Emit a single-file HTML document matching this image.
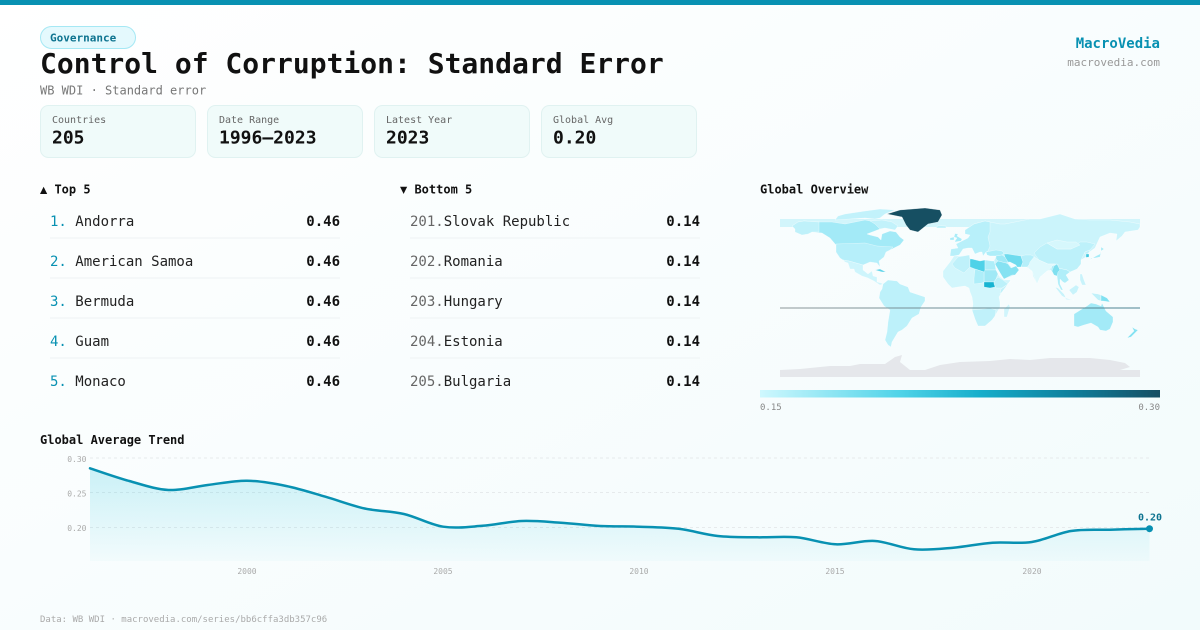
<!DOCTYPE html>
<html>
<head>
<meta charset="utf-8">
<style>
html,body{margin:0;padding:0;width:1200px;height:630px;overflow:hidden;background:#fbfdfd;}
svg{display:block;}
text{font-family:"DejaVu Sans Mono","Liberation Mono",monospace;}
</style>
</head>
<body>
<svg width="1200" height="630" viewBox="0 0 1200 630" xmlns="http://www.w3.org/2000/svg">
<defs>
  <linearGradient id="bg" x1="0" y1="0" x2="1" y2="1">
    <stop offset="0" stop-color="#ffffff"/>
    <stop offset="1" stop-color="#f2fbfc"/>
  </linearGradient>
  <linearGradient id="cbar" x1="0" y1="0" x2="1" y2="0">
    <stop offset="0" stop-color="#cff8fe"/>
    <stop offset="0.35" stop-color="#4fd3e8"/>
    <stop offset="0.55" stop-color="#16aecb"/>
    <stop offset="0.78" stop-color="#0e7f9c"/>
    <stop offset="1" stop-color="#164e63"/>
  </linearGradient>
  <linearGradient id="area" x1="0" y1="0" x2="0" y2="1">
    <stop offset="0" stop-color="#22c3dc" stop-opacity="0.22"/>
    <stop offset="1" stop-color="#22c3dc" stop-opacity="0.03"/>
  </linearGradient>
  <linearGradient id="eq" x1="0" y1="0" x2="1" y2="0">
    <stop offset="0" stop-color="#8d9799"/>
    <stop offset="1" stop-color="#4b8292"/>
  </linearGradient>
  <clipPath id="mapclip"><rect x="780" y="205" width="361" height="172"/></clipPath>
</defs>

<rect x="0" y="0" width="1200" height="630" fill="url(#bg)"/>
<rect x="0" y="0" width="1200" height="5" fill="#0891b2"/>

<!-- Header -->
<rect x="40.5" y="26.5" width="95" height="22" rx="11" fill="#e4f9fd" stroke="#a5e8f4"/>
<text x="50" y="41.5" font-size="11" font-weight="bold" fill="#0e7490">Governance</text>
<text x="40" y="73" font-size="28" font-weight="bold" fill="#111">Control of Corruption: Standard Error</text>
<text x="40" y="94.5" font-size="12" fill="#777">WB WDI · Standard error</text>

<text x="1160" y="48" font-size="14" font-weight="bold" fill="#0891b2" text-anchor="end">MacroVedia</text>
<text x="1160" y="66" font-size="11" fill="#999" text-anchor="end">macrovedia.com</text>

<!-- Stat cards -->
<g>
  <rect x="40.5" y="105.5" width="155" height="52" rx="8" fill="#f0fbfa" stroke="#e0f2f1"/>
  <text x="52" y="123" font-size="10" fill="#666">Countries</text>
  <text x="52" y="143.3" font-size="18" font-weight="bold" fill="#111">205</text>

  <rect x="207.5" y="105.5" width="155" height="52" rx="8" fill="#f0fbfa" stroke="#e0f2f1"/>
  <text x="219" y="123" font-size="10" fill="#666">Date Range</text>
  <text x="219" y="143.3" font-size="18" font-weight="bold" fill="#111">1996–2023</text>

  <rect x="374.5" y="105.5" width="155" height="52" rx="8" fill="#f0fbfa" stroke="#e0f2f1"/>
  <text x="386" y="123" font-size="10" fill="#666">Latest Year</text>
  <text x="386" y="143.3" font-size="18" font-weight="bold" fill="#111">2023</text>

  <rect x="541.5" y="105.5" width="155" height="52" rx="8" fill="#f0fbfa" stroke="#e0f2f1"/>
  <text x="553" y="123" font-size="10" fill="#666">Global Avg</text>
  <text x="553" y="143.3" font-size="18" font-weight="bold" fill="#111">0.20</text>
</g>

<!-- Top 5 -->
<text x="40" y="193.5" font-size="12" font-weight="bold" fill="#111">▲ Top 5</text>
<g font-size="14">
  <text x="50" y="226"><tspan fill="#0891b2">1.</tspan><tspan fill="#222"> Andorra</tspan></text>
  <text x="340" y="226" text-anchor="end" font-weight="bold" fill="#111">0.46</text>
  <rect x="50" y="237.5" width="290" height="1" fill="#eef3f4"/>
  <text x="50" y="266"><tspan fill="#0891b2">2.</tspan><tspan fill="#222"> American Samoa</tspan></text>
  <text x="340" y="266" text-anchor="end" font-weight="bold" fill="#111">0.46</text>
  <rect x="50" y="277.5" width="290" height="1" fill="#eef3f4"/>
  <text x="50" y="306"><tspan fill="#0891b2">3.</tspan><tspan fill="#222"> Bermuda</tspan></text>
  <text x="340" y="306" text-anchor="end" font-weight="bold" fill="#111">0.46</text>
  <rect x="50" y="317.5" width="290" height="1" fill="#eef3f4"/>
  <text x="50" y="346"><tspan fill="#0891b2">4.</tspan><tspan fill="#222"> Guam</tspan></text>
  <text x="340" y="346" text-anchor="end" font-weight="bold" fill="#111">0.46</text>
  <rect x="50" y="357.5" width="290" height="1" fill="#eef3f4"/>
  <text x="50" y="386"><tspan fill="#0891b2">5.</tspan><tspan fill="#222"> Monaco</tspan></text>
  <text x="340" y="386" text-anchor="end" font-weight="bold" fill="#111">0.46</text>
</g>

<!-- Bottom 5 -->
<text x="400" y="193.5" font-size="12" font-weight="bold" fill="#111">▼ Bottom 5</text>
<g font-size="14">
  <text x="410" y="226"><tspan fill="#666">201.</tspan><tspan fill="#222">Slovak Republic</tspan></text>
  <text x="700" y="226" text-anchor="end" font-weight="bold" fill="#111">0.14</text>
  <rect x="410" y="237.5" width="290" height="1" fill="#eef3f4"/>
  <text x="410" y="266"><tspan fill="#666">202.</tspan><tspan fill="#222">Romania</tspan></text>
  <text x="700" y="266" text-anchor="end" font-weight="bold" fill="#111">0.14</text>
  <rect x="410" y="277.5" width="290" height="1" fill="#eef3f4"/>
  <text x="410" y="306"><tspan fill="#666">203.</tspan><tspan fill="#222">Hungary</tspan></text>
  <text x="700" y="306" text-anchor="end" font-weight="bold" fill="#111">0.14</text>
  <rect x="410" y="317.5" width="290" height="1" fill="#eef3f4"/>
  <text x="410" y="346"><tspan fill="#666">204.</tspan><tspan fill="#222">Estonia</tspan></text>
  <text x="700" y="346" text-anchor="end" font-weight="bold" fill="#111">0.14</text>
  <rect x="410" y="357.5" width="290" height="1" fill="#eef3f4"/>
  <text x="410" y="386"><tspan fill="#666">205.</tspan><tspan fill="#222">Bulgaria</tspan></text>
  <text x="700" y="386" text-anchor="end" font-weight="bold" fill="#111">0.14</text>
</g>

<!-- Global Overview map -->
<text x="760" y="193.5" font-size="12" font-weight="bold" fill="#111">Global Overview</text>
<g clip-path="url(#mapclip)">
  <rect x="780" y="219" width="360" height="8" fill="#d2f5fb"/>
  <g transform="translate(960,292) scale(1,-1)" stroke="#ffffff" stroke-width="0.3" fill-rule="nonzero">
    <!-- North America -->
    <polygon fill="#a3eaf7" points="-168,66 -162,70 -156,71 -140,70 -128,70 -115,68 -95,72 -85,70 -80,63 -93,58 -90,57 -82,55 -79,52 -78,58 -70,61 -64,60 -60,55 -56,52 -60,47 -66,44 -70,42 -74,40 -76,35 -81,31 -80,25 -83,29 -90,30 -97,27 -97,22 -92,18 -88,21 -87,16 -83,15 -83,10 -79,9 -77,8 -80,7 -86,11 -92,14 -98,16 -105,20 -106,23 -110,23 -112,29 -115,30 -117,32 -120,34 -124,40 -124,47 -130,54 -138,59 -148,60 -152,58 -158,57 -165,60 -165,63"/>
    <polygon fill="#bff1fa" points="-168,66 -162,70 -156,71 -141,70 -141,60 -148,60 -152,58 -158,57 -165,60 -165,63"/>
    <polygon fill="#b6effa" points="-124,48 -95,49 -83,46 -67,45 -70,42 -74,40 -76,35 -81,31 -80,25 -83,29 -90,30 -97,27 -104,29 -111,31 -117,32 -120,34 -124,40"/>
    <polygon fill="#cef5fc" points="-117,32 -111,31 -104,29 -97,27 -97,22 -92,18 -88,21 -87,16 -83,15 -83,10 -79,9 -77,8 -80,7 -86,11 -92,14 -98,16 -105,20 -106,23 -110,23 -112,29 -115,30"/>
    <polygon fill="#c2f2fb" points="-125,72 -110,73 -95,74 -85,73 -80,74 -75,78 -65,82 -80,83 -95,81 -115,78 -122,76"/>
    <polygon fill="#c2f2fb" points="-80,63 -75,64 -65,62 -62,66 -68,70 -78,72 -90,71 -85,68"/>
    <polygon fill="#5fd3e8" points="-85,22 -80,23 -74,20 -78,20"/>
    <!-- Greenland / Iceland -->
    <polygon fill="#164f62" points="-73,78 -60,82 -35,84 -20,82 -18,77 -22,70 -32,68 -42,60 -50,62 -54,67 -58,75"/>
    <polygon fill="#bff1fa" points="-24,64 -14,64 -14,66 -22,66.5"/>
    <!-- South America -->
    <polygon fill="#bdf1fa" points="-77,8 -72,12 -63,11 -60,8 -52,5 -50,0 -44,-2 -35,-5 -35,-9 -39,-15 -41,-22 -48,-26 -53,-34 -58,-38 -62,-40 -65,-45 -68,-50 -69,-55 -72,-53 -75,-48 -73,-40 -72,-30 -70,-18 -76,-14 -81,-6 -80,0 -78,3"/>
    <!-- Eurasia -->
    <polygon fill="#cbf4fb" points="-10,36 -9,43 -2,44 -4,48 2,51 8,54 10,57 5,58 5,62 14,68 25,71 40,68 45,68 55,70 70,73 80,73 100,78 115,73 130,72 150,72 170,70 180,68 180,65 178,62 165,60 162,56 156,51 157,58 150,59 140,55 135,44 128,39 126,35 121,32 121,28 117,23 110,20 106,17 109,12 105,9 103,10 100,13 100,8 103,2 101,2 98,8 97,16 94,17 91,22 87,21 80,15 77,8 73,16 72,21 67,25 57,25 56,27 50,30 48,29 52,24 56,26 59,22 55,17 44,13 42,16 35,28 34,31 36,36 30,36 27,37 26,40 23,36 22,40 20,40 15,38 12,44 8,44 3,43 -1,37 -6,36"/>
    <polygon fill="#b8f0fa" points="-10,36 -9,43 -2,44 -4,48 2,51 8,54 10,57 5,58 5,62 14,68 25,71 30,70 30,60 28,55 30,46 28,41 26,40 23,36 22,40 20,40 15,38 12,44 8,44 3,43 -1,37 -6,36"/>
    <polygon fill="#a8ecf8" points="-5,50 1,51 2,53 -3,56 -2,58 -5,58.5 -6,55 -3,54 -5,51"/>
    <polygon fill="#a8ecf8" points="-10,52 -6,52 -6,55 -10,54"/>
    <polygon fill="#bdf1fa" points="74,39 80,45 87,49 97,43 111,43 120,50 127,50 135,48 130,42 125,40 121,32 121,28 117,23 110,20 107,22 98,24 97,28 88,28 79,32"/>
    <polygon fill="#d6f7fc" points="87,49 97,52 107,50 116,50 120,47 111,43 97,43"/>
    <polygon fill="#aeeef9" points="26,40 36,42 42,41 44,39 42,37 36,36 30,36 27,37"/>
    <polygon fill="#a0e9f6" points="36,36 42,37 45,35 48,30 46,29 38,31 36,33"/>
    <polygon fill="#6fdbee" points="44,38 48,38 54,37 61,36 63,30 61,25 57,25 56,27 50,30 48,30 45,35"/>
    <polygon fill="#86e2f2" points="35,28 38,31 46,29 48,28 51,24 56,26 59,22 55,17 52,17 44,13 42,16 39,21"/>
    <polygon fill="#b6effa" points="61,36 65,37 71,37 75,35 74,32 70,28 67,25 61,25 63,30"/>
    <polygon fill="#dff9fd" points="68,24 72,21 77,8 80,15 87,21 89,22 92,26 95,28 88,28 79,32 74,35 70,30"/>
    <polygon fill="#b0eef9" points="92,26 98,28 98,24 107,22 110,20 106,17 109,12 105,9 103,10 100,13 100,8 103,2 101,2 98,8 97,16 94,17 91,22"/>
    <polygon fill="#7fe0f0" points="92,21 94,17 97,16 98,20 100,22 98,26 97,28 94,26"/>
    <polygon fill="#c0f1fa" points="125,40 130,42 128,38 125,38"/>
    <polygon fill="#40c8e0" points="126,38 129,38 129,35 126,34.5"/>
    <polygon fill="#a5ebf7" points="130,31 131,34 135,34 140,35 141,40 141,45 144,43 141,41 140,38 136,36 131,33"/>
    <!-- Africa -->
    <polygon fill="#d2f6fc" points="-17,21 -17,15 -12,8 -8,4 -2,5 5,6 9,4 10,0 12,-5 13,-12 12,-18 15,-27 18,-34 25,-34 32,-28 35,-24 40,-15 40,-10 39,-5 42,0 51,12 44,12 39,16 35,24 32,31 25,32 20,31 15,32 10,34 10,37 0,36 -6,36 -10,30"/>
    <polygon fill="#bff1fa" points="-2,35 9,37 10,33 10,25 4,19 -5,24 -8,28"/>
    <polygon fill="#4fd2e8" points="10,33 12,33 20,31 25,32 25,20 24,20 15,23 10,25"/>
    <polygon fill="#aeeef9" points="25,32 32,31 34,31 35,28 36,22 25,22"/>
    <polygon fill="#a0e9f6" points="24,20 25,22 36,22 38,18 36,13 34,10 24,10"/>
    <polygon fill="#aeeef9" points="15,23 24,20 24,10 22,9 14,8 14,14"/>
    <polygon fill="#17b4d2" points="24,10 34,10 35,5 30,4 24,5"/>
    <polygon fill="#bcf1fa" points="34,10 36,13 38,15 43,12 48,8 42,4 36,4 34,8"/>
    <polygon fill="#c0f1fa" points="40,-2 42,0 51,12 48,8 44,5 41,3"/>
    <polygon fill="#c0f1fa" points="12,-18 15,-27 18,-34 25,-34 32,-28 35,-24 36,-18 30,-16 22,-17"/>
    <polygon fill="#d0f5fc" points="44,-25 47,-25 50,-15 49,-12 44,-17"/>
    <!-- SE Asia / Oceania -->
    <polygon fill="#c8f3fb" points="95,5 98,4 104,-2 106,-6 102,-4"/>
    <polygon fill="#c8f3fb" points="109,2 113,-3 117,0 119,5 116,7"/>
    <polygon fill="#c8f3fb" points="105,-6 114,-8 106,-7.5"/>
    <polygon fill="#c8f3fb" points="120,18 122,18 124,12 126,7 122,7 120,12"/>
    <polygon fill="#c0f1fa" points="131,-1 138,-2 141,-3 141,-9 138,-8"/>
    <polygon fill="#80e1f1" points="141,-3 147,-6 150,-10 143,-9 141,-9"/>
    <polygon fill="#a3eaf7" points="114,-22 114,-34 118,-35 124,-33 131,-31 138,-35 140,-38 146,-39 150,-37 153,-30 153,-25 146,-19 142,-11 141,-14 136,-12 131,-11 127,-14 122,-17"/>
    <polygon fill="#86e2f2" points="172,-35 175,-37 178,-38 175,-41 171,-45 167,-46 172,-41 174,-39"/>
    <!-- Antarctica -->
    <polygon fill="#e5e7eb" stroke="none" points="-180,-90 -180,-78 -160,-77 -150,-76 -130,-74 -110,-74 -100,-72 -75,-72 -65,-65 -58,-63 -60,-70 -50,-78 -35,-78 -20,-73 0,-70 30,-69 50,-67 70,-68 90,-66 110,-66 130,-66 150,-68 165,-71 170,-75 160,-78 180,-78 180,-90"/>
  </g>
  <rect x="780" y="307.5" width="360" height="1" fill="url(#eq)"/>
</g>
<rect x="760" y="390" width="400" height="7.5" fill="url(#cbar)"/>
<text x="760" y="410" font-size="9" fill="#888">0.15</text>
<text x="1160" y="410" font-size="9" fill="#888" text-anchor="end">0.30</text>

<!-- Global Average Trend -->
<text x="40" y="444" font-size="12" font-weight="bold" fill="#111">Global Average Trend</text>
<g stroke="#e6eaec" stroke-width="1" stroke-dasharray="3,3">
  <line x1="90" y1="458" x2="1150" y2="458"/>
  <line x1="90" y1="492.5" x2="1150" y2="492.5"/>
  <line x1="90" y1="527.5" x2="1150" y2="527.5"/>
</g>
<g font-size="8" fill="#aaa" text-anchor="end">
  <text x="86.5" y="462">0.30</text>
  <text x="86.5" y="496.5">0.25</text>
  <text x="86.5" y="531">0.20</text>
</g>
<g font-size="8" fill="#aaa" text-anchor="middle">
  <text x="247" y="574">2000</text>
  <text x="443" y="574">2005</text>
  <text x="639" y="574">2010</text>
  <text x="835" y="574">2015</text>
  <text x="1032" y="574">2020</text>
</g>
<path id="areaPath" fill="url(#area)" d="M90,468.3 L129.2,481 L168.5,490 L207.7,485 L247,480.7 L286.2,486 L325.4,496.7 L364.7,508.5 L403.9,514 L443.2,526.7 L482.4,525.8 L521.6,521 L560.9,522.7 L600.1,526 L639.4,526.7 L678.6,528.8 L717.8,536 L757.1,537.3 L796.3,537.3 L835.6,544.3 L874.8,541 L914,549.3 L953.3,547.7 L992.5,542.7 L1031.8,542 L1071,531 L1110.2,529.7 L1149.5,528.7 L1149.5,561 L90,561 Z"/>
<path id="linePath" fill="none" stroke="#0891b2" stroke-width="2.5" stroke-linejoin="round" stroke-linecap="round" d="M90,468.3 L129.2,481 L168.5,490 L207.7,485 L247,480.7 L286.2,486 L325.4,496.7 L364.7,508.5 L403.9,514 L443.2,526.7 L482.4,525.8 L521.6,521 L560.9,522.7 L600.1,526 L639.4,526.7 L678.6,528.8 L717.8,536 L757.1,537.3 L796.3,537.3 L835.6,544.3 L874.8,541 L914,549.3 L953.3,547.7 L992.5,542.7 L1031.8,542 L1071,531 L1110.2,529.7 L1149.5,528.7"/>
<circle cx="1149.5" cy="528.7" r="3.5" fill="#0891b2"/>
<text x="1150" y="520.5" font-size="10" font-weight="bold" fill="#0e7490" text-anchor="middle">0.20</text>

<text x="40" y="622" font-size="9" fill="#aaa">Data: WB WDI · macrovedia.com/series/bb6cffa3db357c96</text>
</svg>
<script>
(function(){
  var p=[[90,468.3],[129.2,481],[168.5,490],[207.7,485],[247,480.7],[286.2,486],[325.4,496.7],[364.7,508.5],[403.9,514],[443.2,526.7],[482.4,525.8],[521.6,521],[560.9,522.7],[600.1,526],[639.4,526.7],[678.6,528.8],[717.8,536],[757.1,537.3],[796.3,537.3],[835.6,544.3],[874.8,541],[914,549.3],[953.3,547.7],[992.5,542.7],[1031.8,542],[1071,531],[1110.2,529.7],[1149.5,528.7]];
  var d="M"+p[0][0]+","+p[0][1];
  for(var i=0;i<p.length-1;i++){
    var p0=p[i-1]||p[i],p1=p[i],p2=p[i+1],p3=p[i+2]||p2;
    var c1x=p1[0]+(p2[0]-p0[0])/6,c1y=p1[1]+(p2[1]-p0[1])/6;
    var c2x=p2[0]-(p3[0]-p1[0])/6,c2y=p2[1]-(p3[1]-p1[1])/6;
    d+=" C"+c1x.toFixed(2)+","+c1y.toFixed(2)+" "+c2x.toFixed(2)+","+c2y.toFixed(2)+" "+p2[0]+","+p2[1];
  }
  document.getElementById("linePath").setAttribute("d",d);
  document.getElementById("areaPath").setAttribute("d",d+" L1149.5,561 L90,561 Z");
})();
</script>
</body>
</html>
